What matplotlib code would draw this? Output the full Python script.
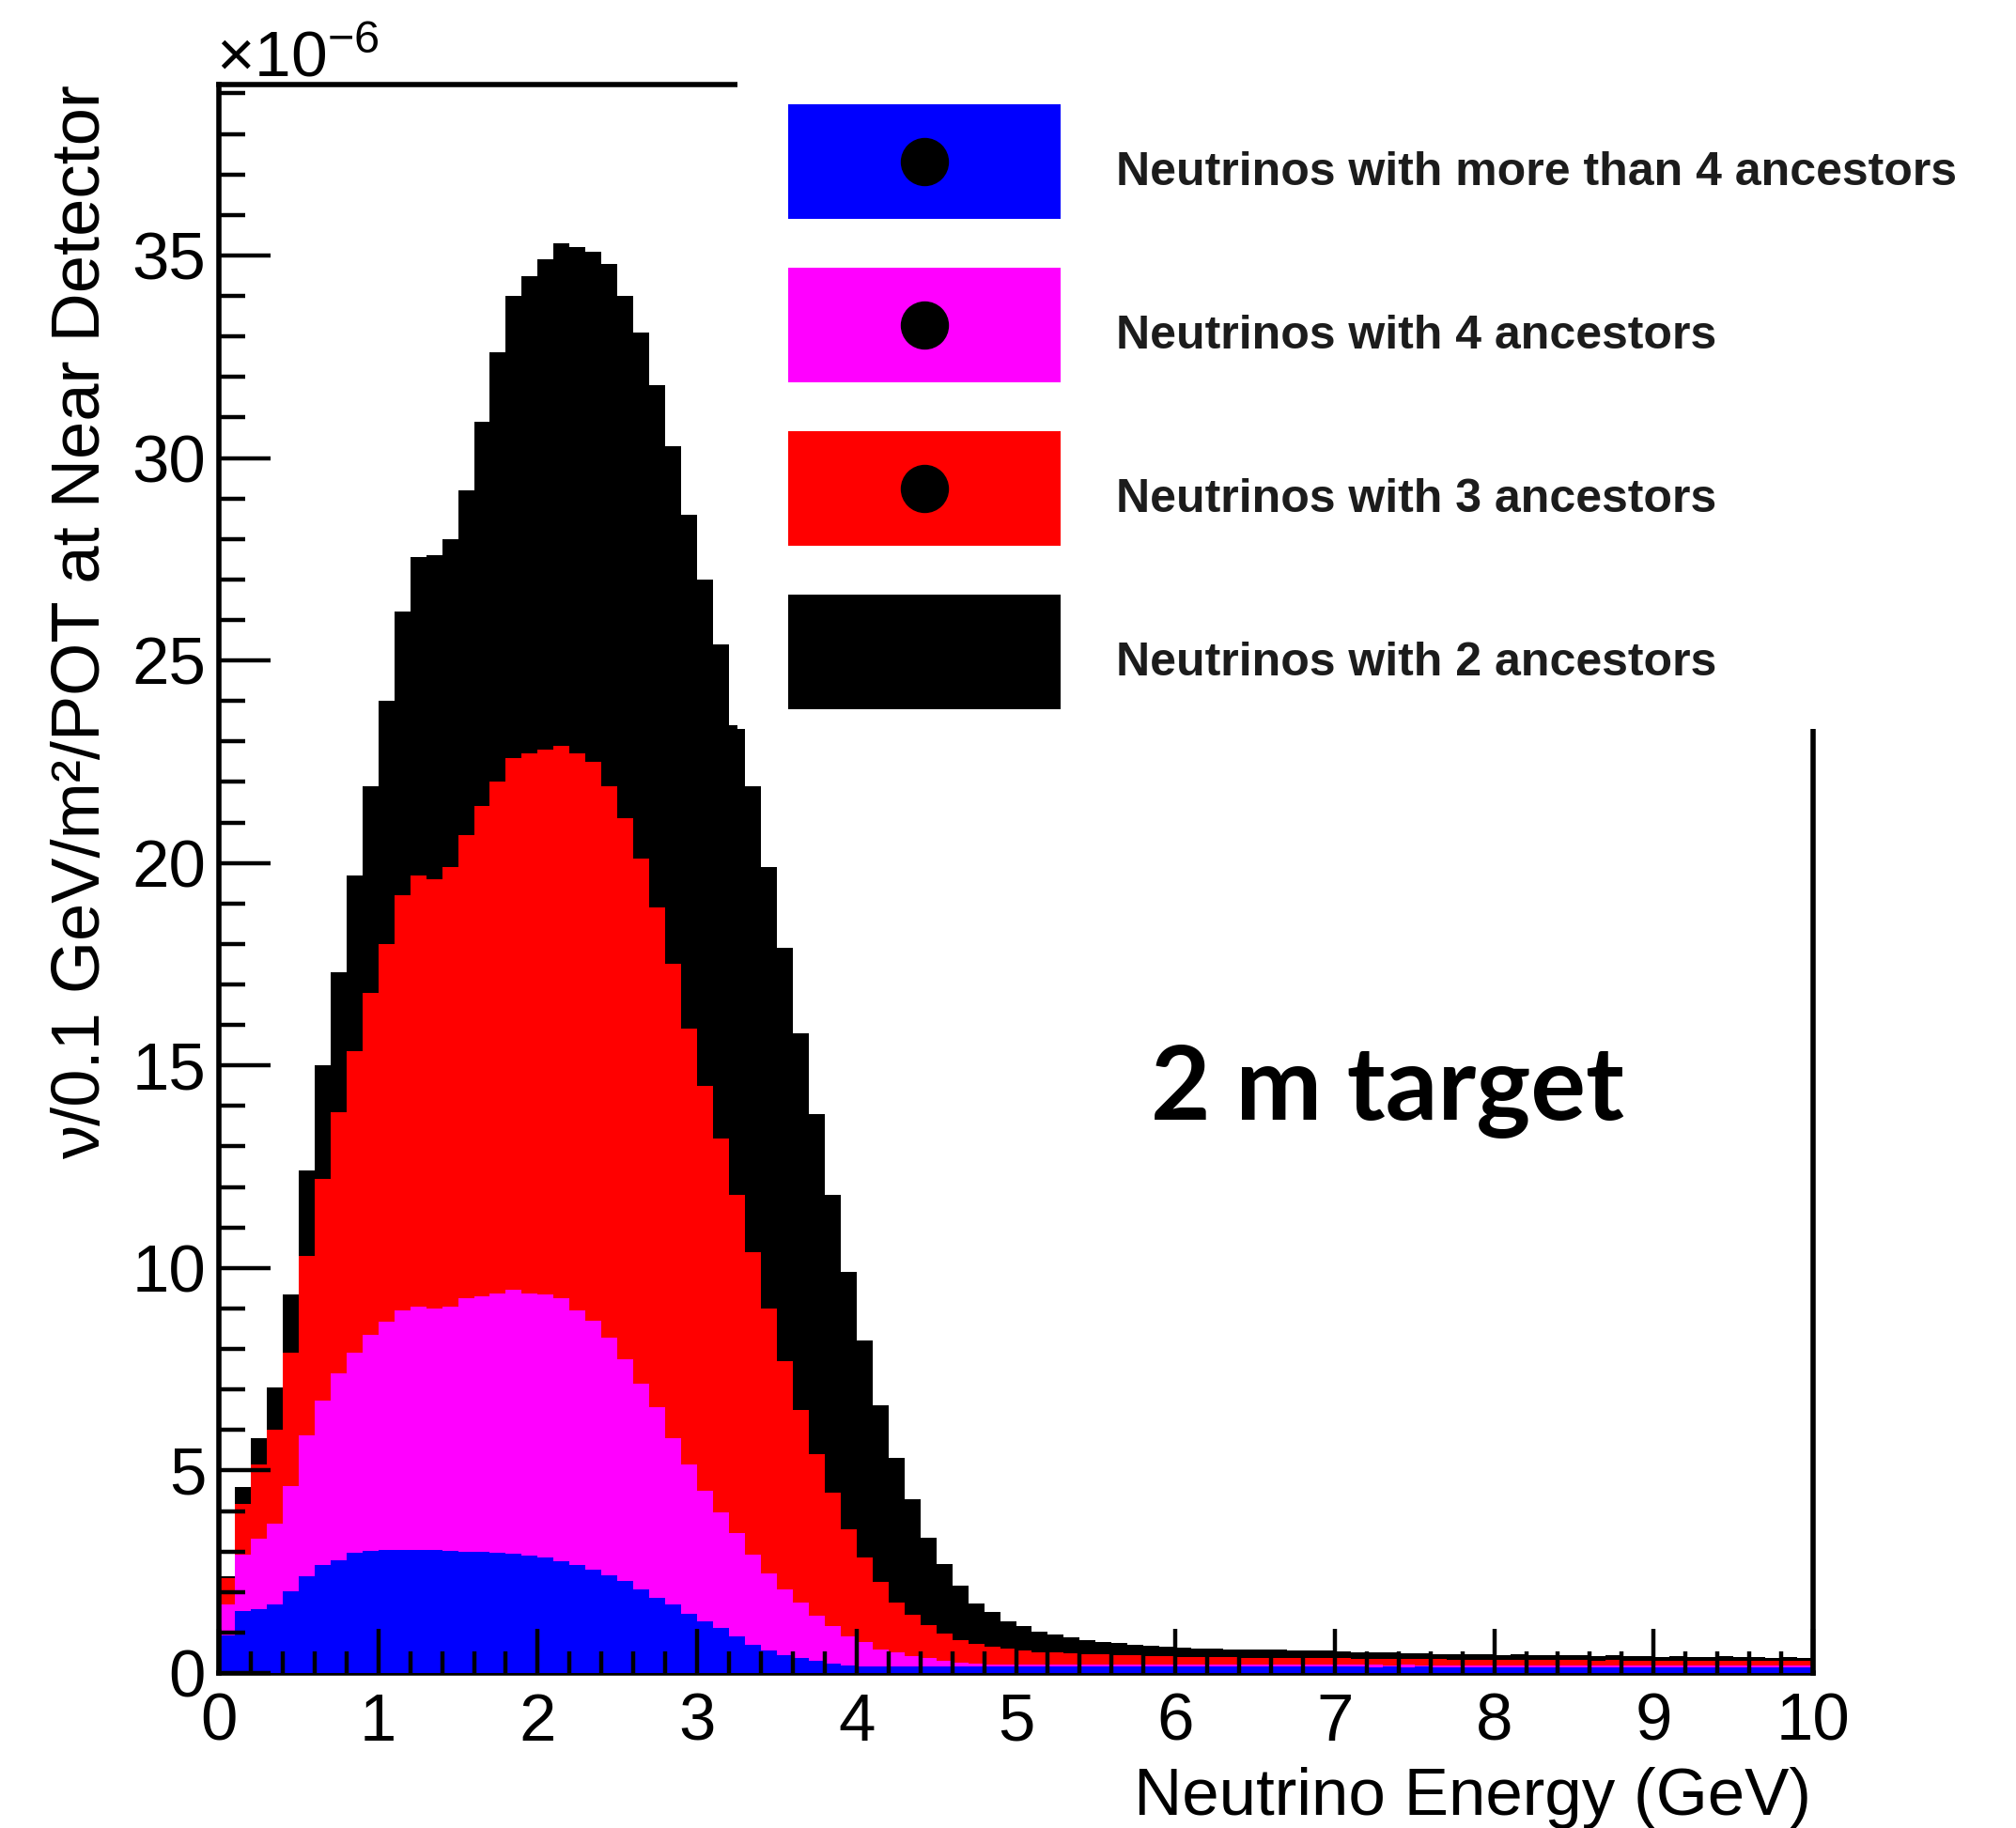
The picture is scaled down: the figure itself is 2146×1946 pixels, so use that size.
import numpy as np
import matplotlib.pyplot as plt
from matplotlib.patches import Rectangle
from matplotlib.ticker import MultipleLocator

plt.rcParams['font.family'] = ['Liberation Sans', 'DejaVu Sans']
plt.rcParams['mathtext.fontset'] = 'custom'
plt.rcParams['mathtext.rm'] = 'Liberation Sans'
plt.rcParams['mathtext.it'] = 'Liberation Sans:italic'

# 100 bins of 0.1 GeV from 0 to 10 GeV
bin_edges = np.linspace(0.0, 10.0, 101)

# Stacked flux per bin (x1e-6 nu/0.1 GeV/m2/POT), each array is the top of its layer
# top of stack: all neutrinos (2 ancestors layer is the outermost)
stack_all = [
    2.4, 4.6, 5.8, 7.05, 9.35, 12.4, 15.0, 17.3, 19.7, 21.9,
    24.0, 26.2, 27.55, 27.6, 28.0, 29.2, 30.9, 32.6, 34.0, 34.5,
    34.9, 35.3, 35.2, 35.1, 34.8, 34.0, 33.1, 31.8, 30.3, 28.6,
    27.0, 25.4, 23.4, 21.9, 19.9, 17.9, 15.8, 13.8, 11.8, 9.9,
    8.2, 6.6, 5.3, 4.3, 3.35, 2.7, 2.15, 1.72, 1.5, 1.28,
    1.15, 1.02, 0.95, 0.88, 0.82, 0.77, 0.74, 0.70, 0.67, 0.64,
    0.62, 0.61, 0.60, 0.59, 0.58, 0.58, 0.57, 0.56, 0.55, 0.55,
    0.54, 0.52, 0.51, 0.50, 0.49, 0.48, 0.47, 0.47, 0.46, 0.46,
    0.45, 0.46, 0.44, 0.45, 0.43, 0.44, 0.42, 0.43, 0.41, 0.42,
    0.40, 0.41, 0.40, 0.39, 0.41, 0.39, 0.40, 0.38, 0.39, 0.38,
]
# 3 or more ancestors
stack_3up = [
    2.34, 4.18, 5.15, 6.0, 7.9, 10.3, 12.2, 13.85, 15.35, 16.8,
    18.0, 19.2, 19.7, 19.6, 19.9, 20.7, 21.4, 22.0, 22.6, 22.7,
    22.8, 22.9, 22.7, 22.5, 21.9, 21.1, 20.1, 18.9, 17.5, 15.9,
    14.5, 13.2, 11.8, 10.4, 9.0, 7.7, 6.5, 5.4, 4.45, 3.55,
    2.86, 2.25, 1.75, 1.44, 1.18, 0.98, 0.82, 0.71, 0.66, 0.60,
    0.56, 0.52, 0.50, 0.48, 0.47, 0.46, 0.44, 0.43, 0.42, 0.41,
    0.40, 0.40, 0.39, 0.39, 0.38, 0.38, 0.37, 0.37, 0.37, 0.36,
    0.36, 0.35, 0.35, 0.35, 0.34, 0.34, 0.34, 0.33, 0.33, 0.33,
    0.33, 0.32, 0.33, 0.32, 0.32, 0.32, 0.31, 0.32, 0.31, 0.31,
    0.31, 0.31, 0.30, 0.31, 0.30, 0.30, 0.30, 0.30, 0.29, 0.30,
]
# 4 or more ancestors
stack_4up = [
    1.69, 2.93, 3.31, 3.69, 4.61, 5.86, 6.72, 7.40, 7.91, 8.34,
    8.67, 8.96, 9.05, 9.0, 9.05, 9.26, 9.31, 9.37, 9.46, 9.37,
    9.34, 9.26, 8.96, 8.70, 8.29, 7.75, 7.15, 6.56, 5.80, 5.15,
    4.50, 3.96, 3.45, 2.93, 2.47, 2.07, 1.74, 1.42, 1.15, 0.91,
    0.77, 0.58, 0.50, 0.41, 0.36, 0.30, 0.26, 0.23, 0.22, 0.21,
    0.21, 0.21, 0.20, 0.20, 0.20, 0.20, 0.20, 0.20, 0.20, 0.20,
    0.20, 0.20, 0.20, 0.20, 0.20, 0.20, 0.20, 0.20, 0.20, 0.20,
    0.20, 0.20, 0.20, 0.19, 0.20, 0.19, 0.19, 0.19, 0.19, 0.19,
    0.19, 0.19, 0.19, 0.19, 0.19, 0.19, 0.19, 0.19, 0.19, 0.19,
    0.19, 0.19, 0.19, 0.19, 0.19, 0.19, 0.19, 0.19, 0.19, 0.19,
]
# more than 4 ancestors
stack_gt4 = [
    0.93, 1.53, 1.58, 1.69, 2.01, 2.39, 2.66, 2.79, 2.97, 3.01,
    3.04, 3.04, 3.04, 3.04, 3.01, 3.00, 2.99, 2.97, 2.94, 2.90,
    2.86, 2.77, 2.66, 2.55, 2.42, 2.28, 2.07, 1.85, 1.69, 1.47,
    1.28, 1.12, 0.90, 0.70, 0.56, 0.45, 0.37, 0.29, 0.23, 0.19,
    0.17, 0.16, 0.16, 0.16, 0.16, 0.16, 0.16, 0.16, 0.16, 0.16,
    0.16, 0.16, 0.16, 0.16, 0.16, 0.16, 0.16, 0.16, 0.16, 0.16,
    0.16, 0.16, 0.16, 0.16, 0.16, 0.16, 0.16, 0.16, 0.16, 0.16,
    0.16, 0.16, 0.15, 0.16, 0.15, 0.16, 0.15, 0.15, 0.15, 0.15,
    0.15, 0.15, 0.15, 0.15, 0.15, 0.15, 0.15, 0.15, 0.15, 0.15,
    0.15, 0.15, 0.15, 0.15, 0.15, 0.15, 0.15, 0.15, 0.15, 0.15,
]

legend_labels = [
    'Neutrinos with more than 4 ancestors',
    'Neutrinos with 4 ancestors',
    'Neutrinos with 3 ancestors',
    'Neutrinos with 2 ancestors',
]
legend_colors = ['#0000ff', '#ff00ff', '#ff0000', '#000000']

W, H = 2146, 1946
fig = plt.figure(figsize=(W / 100, H / 100), dpi=100)
ax = fig.add_axes([233 / W, 1 - 1781 / H, (1930 - 233) / W, (1781 - 90) / H])

# draw outermost layer first so the inner ones sit on top
layers = [stack_all, stack_3up, stack_4up, stack_gt4]
for vals, col in zip(layers, legend_colors[::-1]):
    ax.stairs(vals, bin_edges, fill=True, color=col, linewidth=0, zorder=1)

ax.set_xlim(0, 10)
ax.set_ylim(0, 39.22)
ax.xaxis.set_major_locator(MultipleLocator(1))
ax.xaxis.set_minor_locator(MultipleLocator(0.2))
ax.yaxis.set_major_locator(MultipleLocator(5))
ax.yaxis.set_minor_locator(MultipleLocator(1))

ax.tick_params(which='both', direction='in', top=False, right=False,
               labelsize=51, width=3.2, color='black')
ax.tick_params(axis='y', which='major', length=39.6, pad=10)
ax.tick_params(axis='y', which='minor', length=20)
ax.tick_params(axis='x', which='major', length=34, pad=15)
ax.tick_params(axis='x', which='minor', length=16.5)
for s in ax.spines.values():
    s.set_linewidth(4.0)
# frame sits under the filled histograms, like the bottom edge of the stack
ax.spines['bottom'].set_zorder(0.5)

ax.set_xlabel('Neutrino Energy (GeV)', fontsize=51, loc='right')
ax.xaxis.set_label_coords(0.999, -0.0894)
ax.xaxis.label.set_verticalalignment('baseline')

ax.set_ylabel('ν/0.1 GeV/m²/POT at Near Detector', fontsize=52, loc='top')
ax.yaxis.set_label_coords(-0.066, 1.0)

ax.annotate(r'$\times10^{-6}$', xy=(0, 1), xycoords='axes fraction',
            xytext=(-2, 6), textcoords='offset points',
            fontsize=50, ha='left', va='baseline')

ax.text(0.5845, 0.3484, '2 m target', transform=ax.transAxes,
        fontsize=79, fontweight='bold', family='Lato', va='baseline', ha='left')

# legend panel: white box laid over the top-right corner of the frame
leg = fig.add_axes([785 / W, 1 - 776 / H, (W - 785) / W, 776 / H])
leg.set_zorder(5)
leg.set_facecolor('white')
leg.set_xlim(785, W)
leg.set_ylim(776, 0)
leg.set_xticks([])
leg.set_yticks([])
for s in leg.spines.values():
    s.set_visible(False)

for i, (label, col) in enumerate(zip(legend_labels, legend_colors)):
    top = 111 + i * 174
    leg.add_patch(Rectangle((839, top), 290, 122, facecolor=col, edgecolor='none'))
    leg.plot(984, top + 61, 'o', color='black', markersize=36)
    leg.text(1188, top + 86, label, fontsize=36, fontweight='bold', color='#1c1c1c',
             ha='left', va='baseline')

fig.savefig('out.png', dpi=100)
